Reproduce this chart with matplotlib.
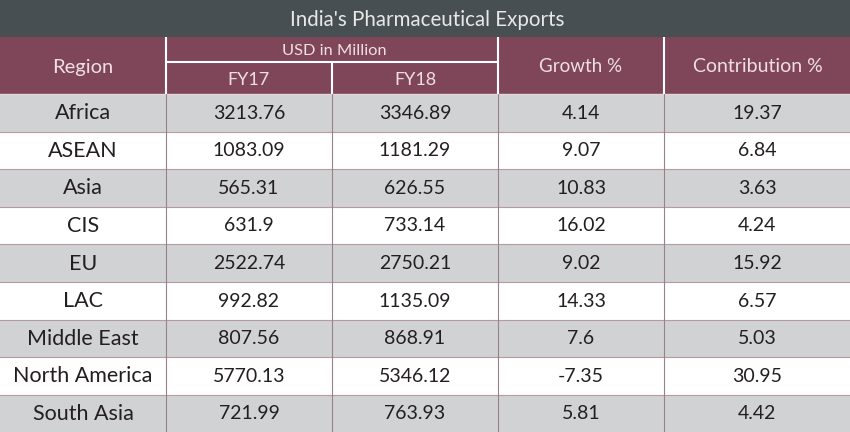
import matplotlib.pyplot as plt
plt.switch_backend("Agg")

regions = ["Africa", "ASEAN", "Asia", "CIS", "EU", "LAC", "Middle East",
           "North America", "South Asia"]
fy17 = ["3213.76", "1083.09", "565.31", "631.9", "2522.74", "992.82", "807.56",
        "5770.13", "721.99"]
fy18 = ["3346.89", "1181.29", "626.55", "733.14", "2750.21", "1135.09", "868.91",
        "5346.12", "763.93"]
growth = ["4.14", "9.07", "10.83", "16.02", "9.02", "14.33", "7.6", "-7.35", "5.81"]
contribution = ["19.37", "6.84", "3.63", "4.24", "15.92", "6.57", "5.03", "30.95",
                "4.42"]

title = "India's Pharmaceutical Exports"
col_edges = [0, 166, 332, 498, 664, 850]
row_edges = [94, 131.5, 169, 206.5, 244, 282, 319.5, 357, 394.5, 432]

dark = "#484f52"
maroon = "#7f4659"
gray = "#d1d2d4"
header_text = "#efdfe3"
body_text = "#231f20"
font = "Lato"

fig = plt.figure(figsize=(8.5, 4.32), dpi=100)
ax = fig.add_axes([0, 0, 1, 1])
ax.set_xlim(0, 850)
ax.set_ylim(432, 0)
ax.axis("off")

# title band and header
ax.axhspan(0, 37, color=dark, lw=0)
ax.axhspan(37, 94, color=maroon, lw=0)
ax.text(427, 20.5, title, color="#e8e8e8", fontsize=14.8, family=font,
        ha="center", va="center")

# body rows
columns = [regions, fy17, fy18, growth, contribution]
for i in range(len(regions)):
    top, bottom = row_edges[i], row_edges[i + 1]
    ax.axhspan(top, bottom, color=gray if i % 2 == 0 else "white", lw=0)
    for j, col in enumerate(columns):
        size = 15.5 if j == 0 else 14
        ax.text((col_edges[j] + col_edges[j + 1]) / 2, (top + bottom) / 2 + 0.5,
                col[i], color=body_text, fontsize=size, family=font,
                ha="center", va="center")

# grid lines
for y in row_edges[1:-1]:
    ax.plot([0, 850], [y, y], color="#b39aa3", lw=0.8)
ax.plot([0, 850], [94, 94], color="#e6d5da", lw=1)
for x in col_edges[1:-1]:
    ax.plot([x, x], [94, 432], color="#9b8089", lw=0.8)

# header lines
for x in [166, 498, 664]:
    ax.plot([x, x], [37, 94], color="white", lw=1.5, solid_capstyle="butt")
ax.plot([332, 332], [62, 94], color="white", lw=1.5, solid_capstyle="butt")
ax.plot([166, 498], [62, 62], color="white", lw=1.5, solid_capstyle="butt")

# header labels
ax.text(83, 67, "Region", color=header_text, fontsize=14.5, family=font,
        ha="center", va="center")
ax.text(334, 51, "USD in Million", color=header_text, fontsize=11.8, family=font,
        ha="center", va="center")
ax.text(249, 80, "FY17", color=header_text, fontsize=13, family=font,
        ha="center", va="center")
ax.text(415, 80, "FY18", color=header_text, fontsize=13, family=font,
        ha="center", va="center")
ax.text(581, 67, "Growth %", color=header_text, fontsize=13.5, family=font,
        ha="center", va="center")
ax.text(757.5, 67, "Contribution %", color=header_text, fontsize=14, family=font,
        ha="center", va="center")

fig.savefig("out.png", dpi=100)
plt.close()
